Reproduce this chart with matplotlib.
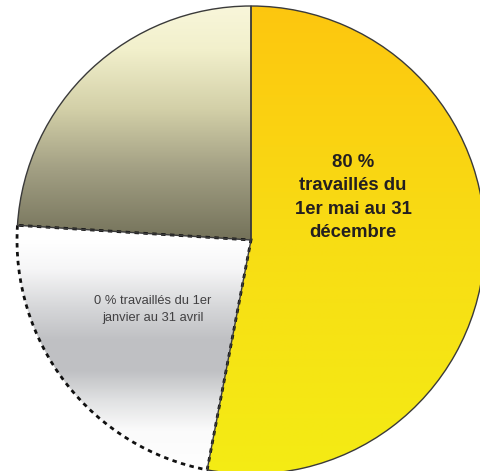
import matplotlib
matplotlib.use("Agg")
import matplotlib.pyplot as plt
import numpy as np
from matplotlib.colors import LinearSegmentedColormap

# Data
labels = ["80 %\ntravaillés du\n1er mai au 31\ndécembre",
          "0 % travaillés du 1er\njanvier au 31 avril",
          ""]
values = [53, 23, 24]

fig = plt.figure(figsize=(4.80, 4.71), dpi=100)
ax = fig.add_axes([0, 0, 1, 1])

wedges, _ = ax.pie(values, startangle=90, counterclock=False, radius=1.0,
                   center=(0, 0), frame=True,
                   wedgeprops=dict(facecolor="none", edgecolor="none"))

R = 234.0
ax.set_xlim(-251 / R, (480 - 251) / R)
ax.set_ylim(-(471 - 240) / R, 240 / R)
ax.set_aspect("auto")
ax.axis("off")

grads = [
    [(0.0, "#FDC60F"), (0.5, "#F8DD14"), (1.0, "#F4EC14")],
    [(0.0, "#FFFFFF"), (0.12, "#F6F6F7"), (0.28, "#D6D7D9"), (0.42, "#BFC0C3"),
     (0.55, "#C0C1C4"), (0.68, "#E2E3E4"), (0.8, "#FBFBFB"), (1.0, "#FFFFFF")],
    [(0.0, "#F9F7DC"), (0.2, "#F2F0CC"), (0.45, "#D3D0A8"), (0.7, "#A3A084"), (1.0, "#74725A")],
]
extents = [(-1.02, 1.02, -1.02, 1.02), (-1.02, 1.02, -1.02, 0.0), (-1.02, 1.02, 0.0, 1.02)]

for w, g, ext in zip(wedges, grads, extents):
    cmap = LinearSegmentedColormap.from_list("g", g)
    arr = np.linspace(0, 1, 256).reshape(-1, 1)
    im = ax.imshow(arr, cmap=cmap, extent=ext, origin="upper", aspect="auto",
                   interpolation="bilinear", zorder=1)
    im.set_clip_path(w)

# borders
for i, w in enumerate(wedges):
    w.set_zorder(3)
    if i == 1:
        w.set_edgecolor("#111111")
        w.set_linewidth(2.0)
        w.set_linestyle((0, (1.6, 1.6)))
    else:
        w.set_edgecolor("#3a3a3a")
        w.set_linewidth(1.0)

for i in (0, 2):
    wedges[i].set_zorder(4)

ax.text(0.436, (240 - 197.5) / R, labels[0], ha="center", va="center", fontsize=13.3,
        fontweight="bold", family="Liberation Sans", color="#231F20",
        linespacing=1.47, zorder=5)
ax.text((152.5 - 251) / R, (240 - 309.5) / R, labels[1], ha="center", va="center",
        fontsize=9.3, family="Liberation Sans", color="#414042",
        linespacing=1.62, zorder=5)

fig.savefig("out.png", dpi=100)
